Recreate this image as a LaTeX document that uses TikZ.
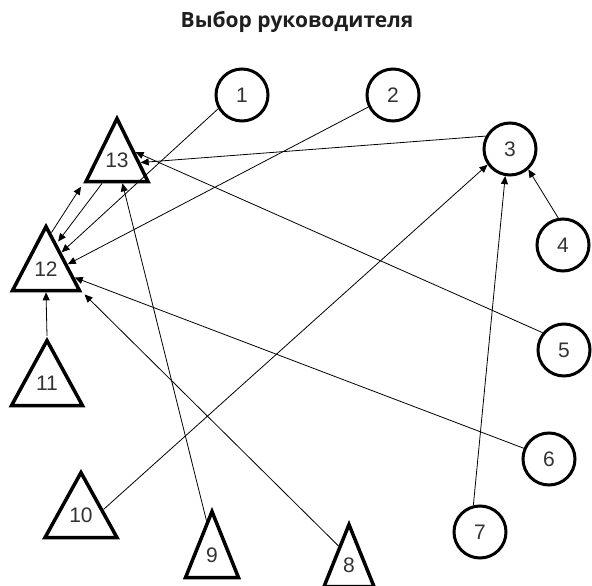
\documentclass[tikz,border=0pt]{standalone}
\usepackage{fontspec}
\setmainfont{Liberation Sans}
\newfontfamily\titlefont{Open Sans}
\usetikzlibrary{arrows.meta,shapes.geometric,calc}
\definecolor{txt}{HTML}{333333}

\begin{document}
\begin{tikzpicture}[x=1pt,y=-1pt,
	kr/.style={circle, draw, line width=3pt, minimum size=52pt, inner sep=0pt, text=txt, font=\fontsize{21}{21}\selectfont},
	tri/.style={isosceles triangle, isosceles triangle stretches, shape border rotate=90, draw, line width=3.5pt, inner sep=0pt, anchor=apex},
	num/.style={text=txt, font=\fontsize{21}{21}\selectfont, inner sep=0pt},
	sv/.style={-{Triangle[length=8pt,width=7pt]}, line width=0.8pt}]
	\useasboundingbox (0,0) rectangle (592,586);
	%\draw [help lines] (0,0) grid (592,586);
	\node [text=black!88, font=\titlefont\bfseries\fontsize{21}{21}\selectfont, anchor=base] (titolo) at (297,28) {Выбор руководителя};
	%Cerchi
	\node [kr] (c1) at (242,95) {1};
	\node [kr] (c2) at (393,95) {2};
	\node [kr] (c3) at (510,149) {3};
	\node [kr] (c4) at (563,245) {4};
	\node [kr] (c5) at (564,350) {5};
	\node [kr] (c6) at (549,459) {6};
	\node [kr] (c7) at (480,532) {7};
	%Triangoli
	\node [tri, minimum width=62pt, minimum height=63pt] (t13) at (117,114) {};
	\node [tri, minimum width=67pt, minimum height=64pt] (t12) at (46,222) {};
	\node [tri, minimum width=71pt, minimum height=65pt] (t11) at (47,336) {};
	\node [tri, minimum width=72pt, minimum height=65pt] (t10) at (81,468) {};
	\node [tri, minimum width=53pt, minimum height=66pt] (t9) at (212,507) {};
	\node [tri, minimum width=50pt, minimum height=62pt] (t8) at (349,520) {};
	\node [num] (n13) at ($(t13.apex)!0.667!(t13.lower side)$) {13};
	\node [num] (n12) at ($(t12.apex)!0.667!(t12.lower side)$) {12};
	\node [num] (n11) at ($(t11.apex)!0.667!(t11.lower side)$) {11};
	\node [num] (n10) at ($(t10.apex)!0.667!(t10.lower side)$) {10};
	\node [num] (n9) at ($(t9.apex)!0.667!(t9.lower side)$) {9};
	\node [num] (n8) at ($(t8.apex)!0.667!(t8.lower side)$) {8};
	%Frecce verso 12
	\draw [sv] (c1.210) -- ($(t12.apex)!0.43!(t12.right corner)$);
	\draw [sv] (c2.206) -- ($(t12.apex)!0.6!(t12.right corner)$);
	\draw [sv] (c6.157) -- ($(t12.apex)!0.79!(t12.right corner)$);
	\draw [sv, shorten >=3pt] ($(t8.apex)!0.38!(t8.left corner)$) -- (t12.right corner);
	\draw [sv] (t11.apex) -- (t12.lower side);
	\draw [sv, shorten >=2pt] ($(t13.left corner)!0.28!(t13.right corner)$) -- ($(t12.apex)!0.3!(t12.right corner)$);
	%Frecce verso 13
	\draw [sv, shorten >=4pt] ($(t12.apex)!0.15!(t12.right corner)$) -- (t13.left corner);
	\draw [sv] (c3.152) -- ($(t13.apex)!0.7!(t13.right corner)$);
	\draw [sv] (c5.141) -- ($(t13.apex)!0.55!(t13.right corner)$);
	\draw [sv] ($(t9.apex)!0.19!(t9.left corner)$) -- ($(t13.left corner)!0.58!(t13.right corner)$);
	%Frecce verso 3
	\draw [sv] ($(t10.apex)!0.58!(t10.right corner)$) -- (c3.215);
	\draw [sv] (c7.104) -- (c3.260);
	\draw [sv] (c4.100) -- (c3.312);
\end{tikzpicture}
\end{document}
